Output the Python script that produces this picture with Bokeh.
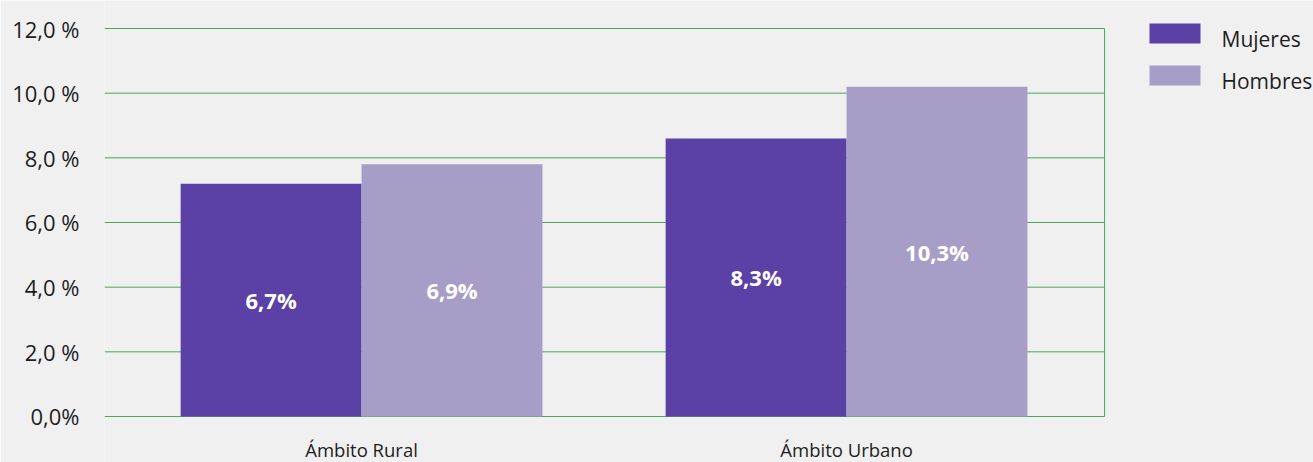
from bokeh.plotting import figure
from bokeh.models import ColumnDataSource, Range1d, FixedTicker
from bokeh.transform import dodge
from bokeh.core.properties import value
from bokeh.embed import file_html
from bokeh.resources import INLINE

# ---- data ----
categories = ["Ámbito Rural", "Ámbito Urbano"]
series = ["Mujeres", "Hombres"]
mujeres = [7.2, 8.6]
hombres = [7.8, 10.2]
mujeres_labels = ["6,7%", "8,3%"]
hombres_labels = ["6,9%", "10,3%"]
y_ticks = [0, 2, 4, 6, 8, 10, 12]
y_tick_labels = ["0,0%", "2,0 %", "4,0 %", "6,0 %", "8,0 %", "10,0 %", "12,0 %"]
colors = ["#5b41a6", "#a69ec7"]

# ---- style / layout ----
W, H = 1313, 462
FRAME_LEFT_PX = 104
BG = "#f0f0f0"
GRID = "#48a65a"
TXT = "#1e1e1e"
FONT = "Open Sans"
BW = 0.373          # bar width (category units)
X_START = -0.53     # left edge of plotting area
X_BORDER = 1.532    # right border line of plotting area
X_PX = 485.0        # pixels per category unit
Y_PX = 32.333       # pixels per percentage point
Y_END = 12.866      # value at the top edge of the canvas
X_END = X_START + (W - FRAME_LEFT_PX) / X_PX
Y_START = Y_END - H / Y_PX
CAT_LABEL_Y = -1.02


def px_x(px):
    return X_START + (px - FRAME_LEFT_PX) / X_PX


def px_y(py):
    return Y_END - py / Y_PX


# legend layout (pixel positions)
LEG_SW_LEFT, LEG_SW_RIGHT = 1149, 1200
LEG_SW_TOPS = [23, 65]
LEG_SW_H = 20
LEG_TXT_X = 1221
LEG_TXT_MID = [38, 80.5]

idx = list(range(len(categories)))
src = ColumnDataSource(dict(
    x=idx,
    m=mujeres, h=hombres,
    m_mid=[v / 2 for v in mujeres], h_mid=[v / 2 for v in hombres],
    ml=mujeres_labels, hl=hombres_labels,
))

p = figure(width=W, height=H, output_backend="svg", toolbar_location=None,
           x_range=Range1d(X_START, X_END), y_range=Range1d(Y_START, Y_END),
           x_axis_location=None,
           background_fill_color=BG, border_fill_color=BG,
           min_border_left=FRAME_LEFT_PX, min_border_right=0, min_border_top=0,
           min_border_bottom=0)
p.outline_line_color = None
p.xgrid.grid_line_color = None
p.ygrid.grid_line_color = None

# grid lines (only up to the right border) and right border line
p.segment(x0=[X_START] * len(y_ticks), y0=y_ticks, x1=[X_BORDER] * len(y_ticks), y1=y_ticks,
          line_color=GRID, line_width=1)
p.segment(x0=[X_BORDER], y0=[y_ticks[0]], x1=[X_BORDER], y1=[y_ticks[-1]],
          line_color=GRID, line_width=1)

p.vbar(x=dodge("x", -BW / 2), top="m", width=BW, source=src,
       fill_color=colors[0], line_color=None)
p.vbar(x=dodge("x", BW / 2), top="h", width=BW, source=src,
       fill_color=colors[1], line_color=None)

for ycol, tcol, off in [("m_mid", "ml", -BW / 2), ("h_mid", "hl", BW / 2)]:
    p.text(x=dodge("x", off), y=ycol, text=tcol, source=src,
           text_align="center", text_baseline="middle",
           text_color="white", text_font=value(FONT), text_font_style="bold",
           text_font_size="22px")

# category labels
p.text(x=idx, y=[CAT_LABEL_Y] * len(idx), text=categories,
       text_align="center", text_baseline="middle", text_color=TXT,
       text_font=value(FONT), text_font_size="18.5px")

# legend (swatches + labels)
p.quad(left=[px_x(LEG_SW_LEFT)] * 2, right=[px_x(LEG_SW_RIGHT)] * 2,
       top=[px_y(t) for t in LEG_SW_TOPS], bottom=[px_y(t + LEG_SW_H) for t in LEG_SW_TOPS],
       fill_color=colors, line_color=None)
p.text(x=[px_x(LEG_TXT_X)] * 2, y=[px_y(m) for m in LEG_TXT_MID], text=series,
       text_align="left", text_baseline="middle", text_color=TXT,
       text_font=value(FONT), text_font_size="21px")

# y axis
p.yaxis.ticker = FixedTicker(ticks=y_ticks)
p.yaxis.major_label_overrides = {t: l for t, l in zip(y_ticks, y_tick_labels)}
p.yaxis.axis_line_color = None
p.yaxis.major_tick_line_color = None
p.yaxis.minor_tick_line_color = None
p.yaxis.major_tick_out = 0
p.yaxis.major_tick_in = 0
p.yaxis.minor_tick_out = 0
p.yaxis.major_label_standoff = 25
p.yaxis.major_label_text_font = FONT
p.yaxis.major_label_text_font_size = "22px"
p.yaxis.major_label_text_color = TXT

open("out.html", "w").write(file_html(p, INLINE))
